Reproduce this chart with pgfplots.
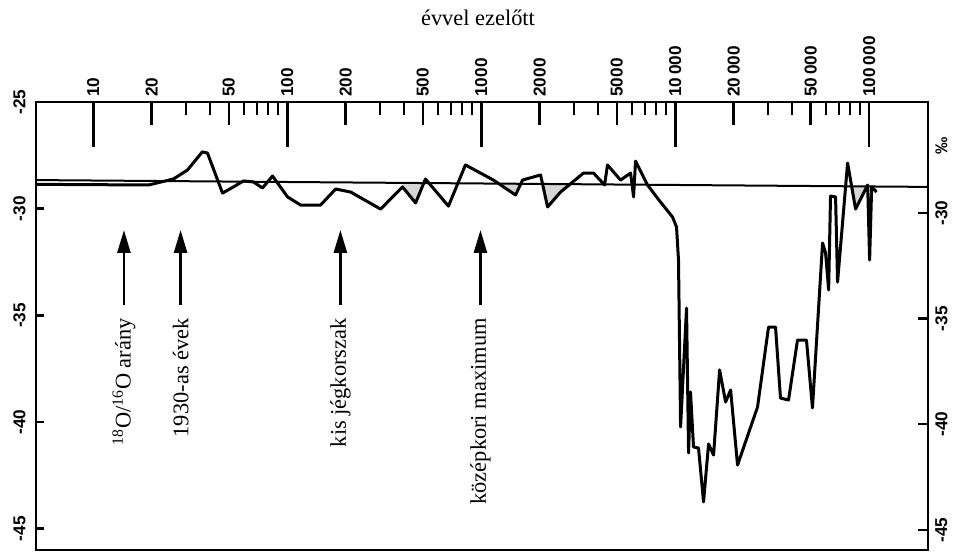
\documentclass[border=0pt]{standalone}
\usepackage{fontspec}
\setmainfont{Liberation Serif}
\newfontfamily\sansfam{Liberation Sans}
\usepackage{pgfplots}
\pgfplotsset{compat=1.18}
\usetikzlibrary{arrows.meta}

\newcommand\tickfont{\sansfam\bfseries\fontsize{8.6bp}{10bp}\selectfont}
\newcommand\notefont{\fontsize{11.2bp}{13bp}\selectfont}

\begin{document}
\begin{tikzpicture}
\useasboundingbox (-18bp,-1bp) rectangle (461bp,275bp);

% main axis: curve, box and the time scale on top
\begin{axis}[
    at={(0,0)}, anchor=south west,
    scale only axis, width=446bp, height=224bp,
    xmode=log, xmin=5.07, xmax=201000,
    ymin=-46, ymax=-25,
    axis line style={line width=1.2bp},
    ytick=\empty,
    xtick pos=right, xticklabel pos=right,
    xtick={10,100,1000,10000,100000},
    xticklabels={10,100,1000,10\,000,100\,000},
    extra x ticks={20,50,200,500,2000,5000,20000,50000},
    extra x tick labels={20,50,200,500,2000,5000,20\,000,50\,000},
    extra x tick style={major tick length=11.5bp},
    minor xtick={30,40,60,70,80,90,300,400,600,700,800,900,
        3000,4000,6000,7000,8000,9000,30000,40000,60000,70000,80000,90000},
    major tick length=22.5bp, minor tick length=6.5bp,
    every major tick/.append style={line width=1.3bp, black},
    every minor tick/.append style={line width=1bp, black},
    xticklabel style={rotate=90, anchor=west, inner sep=0pt, font=\tickfont},
    xticklabel shift=2.5bp,
    clip=false,
]
% shaded dips below the reference line
\addplot[fill=black!16, draw=none] coordinates {(393,-28.79) (393,-28.98) (459,-29.73) (507,-28.79)} -- cycle;
\addplot[fill=black!16, draw=none] coordinates {(1228,-28.82) (1503,-29.36) (1603,-28.82)} -- cycle;
\addplot[fill=black!16, draw=none] coordinates {(2070,-28.84) (2198,-29.92) (2565,-29.22) (2884,-28.84)} -- cycle;
\addplot[fill=black!16, draw=none] coordinates {(81300,-28.96) (85100,-30.02) (97200,-28.96)} -- cycle;

% reference line
\addplot[black, line width=1bp] coordinates {(5.07,-28.66) (201000,-28.98)};

% delta 18O curve
\addplot[black, line width=1.5bp, line join=round] coordinates {
(5.07,-28.86) (19.3,-28.89) (25.9,-28.61) (30.6,-28.19) (36.5,-27.34)
(38.8,-27.39) (46.4,-29.27) (52.8,-28.98) (59.5,-28.70) (67.0,-28.75)
(74.6,-29.03) (84.0,-28.47) (100.4,-29.45) (117.2,-29.83) (148.6,-29.83)
(177.6,-29.08) (212.3,-29.22) (303,-30.02) (393,-28.98) (459,-29.73)
(516,-28.61) (678,-29.88) (829,-27.95) (1156,-28.66) (1503,-29.36)
(1633,-28.66) (2023,-28.42) (2198,-29.92) (2565,-29.22) (3368,-28.33)
(3793,-28.33) (4323,-28.89) (4478,-27.95) (5228,-28.66) (5888,-28.33)
(6101,-29.45) (6245,-27.77) (7199,-28.89) (8399,-29.69) (9686,-30.39)
(10160,-30.86) (10400,-32.41) (10660,-40.23) (11440,-34.66) (11720,-41.45)
(11990,-38.59) (12430,-41.17) (13190,-41.22) (14000,-43.75) (14860,-41.03)
(15770,-41.55) (16940,-37.56) (18190,-39.06) (19310,-38.50) (20960,-42.02)
(26570,-39.30) (30280,-35.55) (32900,-35.55) (34900,-38.88) (38400,-38.97)
(42700,-36.16) (47500,-36.16) (51000,-39.34) (57500,-31.61) (59600,-32.08)
(61800,-33.81) (63200,-29.41) (67100,-29.45) (68700,-33.44) (77400,-27.86)
(85100,-30.02) (98200,-28.89) (100500,-32.41) (103000,-28.98) (109200,-29.22)
};

% arrows and notes
\foreach \t/\txt in {14.4/{\textsuperscript{18}O/\textsuperscript{16}O arány},
                     28.2/{1930-as évek},
                     188/{kis jégkorszak},
                     991/{középkori maximum}} {
  \edef\tmp{\noexpand\draw[line width=1.3bp, -{Triangle[length=11.5bp,width=6.5bp]}]
      (axis cs:\t,-34.52) -- (axis cs:\t,-31.0);}\tmp
}
\node[rotate=90, anchor=east, inner sep=0pt, font=\notefont] at (axis cs:14.4,-35.125) {\textsuperscript{18}O/\textsuperscript{16}O arány};
\node[rotate=90, anchor=east, inner sep=0pt, font=\notefont] at (axis cs:28.2,-35.125) {1930-as évek};
\node[rotate=90, anchor=east, inner sep=0pt, font=\notefont] at (axis cs:188,-35.125) {kis jégkorszak};
\node[rotate=90, anchor=east, inner sep=0pt, font=\notefont] at (axis cs:991,-35.125) {középkori maximum};
\end{axis}

% left scale
\begin{axis}[
    at={(0,0)}, anchor=south west,
    scale only axis, width=446bp, height=224bp,
    xmin=0, xmax=1, ymin=-46, ymax=-25,
    hide x axis, axis line style={draw=none},
    ytick={-25,-30,-35,-40,-45},
    yticklabels={-25,-30,-35,-40,-45},
    ytick pos=left, yticklabel pos=left,
    major tick length=4bp,
    every major tick/.append style={line width=1.2bp, black},
    yticklabel style={rotate=90, anchor=south, inner sep=0pt, font=\tickfont},
    yticklabel shift=5bp,
]
\end{axis}

% right scale
\begin{axis}[
    at={(0,0)}, anchor=south west,
    scale only axis, width=446bp, height=224bp,
    xmin=0, xmax=1, ymin=-45.95, ymax=-24.75,
    hide x axis, axis line style={draw=none},
    ytick={-30,-35,-40,-45},
    yticklabels={-30,-35,-40,-45},
    ytick pos=right, yticklabel pos=right,
    major tick length=5bp,
    every major tick/.append style={line width=1.2bp, black},
    yticklabel style={rotate=90, anchor=north, inner sep=0pt, font=\tickfont},
    yticklabel shift=3.5bp,
]
\end{axis}

\node[rotate=90, anchor=north, inner sep=0pt, font=\tickfont] at (449.5bp,202bp) {‰};
\node[anchor=base, inner sep=0pt, font=\notefont] at (221bp,262bp) {évvel ezelőtt};
\end{tikzpicture}
\end{document}
